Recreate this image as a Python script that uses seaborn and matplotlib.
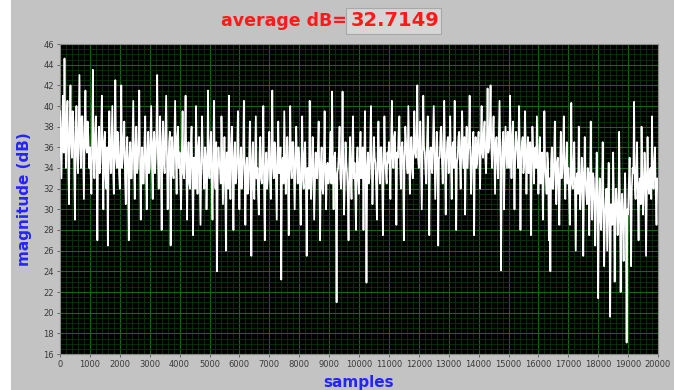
import numpy as np
import pandas as pd
import matplotlib
matplotlib.use('Agg')
import matplotlib.pyplot as plt
from matplotlib.patches import Rectangle
from matplotlib.ticker import MultipleLocator
import seaborn as sns

# sample spacing of the typed trace
step = 25

# magnitude values, one per 25 samples (0 .. 20000), 40 per row = 1000 samples
magnitude_db = [
    39.5, 36.0, 33.0, 38.5, 41.0, 35.5, 44.6, 37.5, 34.0, 39.0, 40.5, 35.0, 30.5, 38.0, 42.0, 36.5, 35.0, 39.5, 38.5, 34.5,
    29.0, 37.0, 40.0, 35.5, 33.5, 38.5, 43.0, 36.0, 34.0, 39.0, 39.0, 35.0, 31.0, 37.5, 41.5, 36.0, 35.5, 38.5, 37.0, 34.0,
    36.0, 33.5, 31.5, 36.5, 43.5, 35.0, 33.0, 37.0, 39.0, 34.0, 27.0, 36.0, 38.0, 33.5, 34.5, 37.5, 41.0, 35.0, 30.0, 36.5,
    37.5, 33.0, 32.0, 36.0, 26.5, 34.5, 39.5, 35.5, 33.5, 37.0, 40.0, 34.0, 31.5, 36.5, 42.5, 35.0, 34.0, 37.5, 36.5, 33.5,
    32.0, 36.0, 42.0, 34.0, 35.0, 37.0, 38.5, 33.0, 30.5, 35.5, 37.0, 33.5, 27.0, 35.0, 36.5, 33.0, 33.0, 37.0, 40.5, 34.5,
    31.0, 36.0, 38.0, 33.5, 34.0, 36.5, 41.5, 35.0, 29.0, 34.0, 36.0, 32.5, 32.5, 36.5, 39.0, 34.0, 30.0, 35.5, 37.5, 33.5,
    34.0, 37.0, 40.0, 34.5, 31.0, 36.5, 37.5, 33.5, 35.0, 37.5, 43.0, 35.0, 32.0, 36.0, 39.0, 34.0, 28.0, 36.5, 38.5, 34.5,
    33.5, 37.0, 41.0, 35.5, 30.0, 34.0, 36.5, 37.5, 26.5, 35.0, 37.0, 33.5, 33.0, 36.5, 40.5, 35.0, 31.5, 37.0, 38.0, 34.0,
    35.5, 32.5, 30.0, 35.5, 39.5, 33.5, 33.0, 36.0, 41.0, 34.0, 29.0, 35.0, 36.5, 32.5, 32.0, 36.0, 38.0, 33.5, 27.5, 35.0,
    35.0, 32.0, 40.0, 34.5, 31.5, 36.0, 37.0, 33.0, 28.5, 34.5, 39.0, 35.5, 33.5, 32.0, 36.0, 35.0, 30.0, 33.5, 41.5, 34.0,
    33.0, 36.0, 37.5, 32.5, 29.0, 35.0, 40.5, 34.0, 32.0, 36.5, 24.0, 33.0, 36.0, 34.5, 34.0, 32.5, 39.0, 35.5, 30.5, 34.0,
    37.0, 33.0, 26.0, 35.5, 35.5, 32.0, 41.0, 34.5, 31.0, 36.0, 38.0, 33.5, 28.0, 35.0, 36.5, 32.5, 33.0, 35.5, 39.5, 34.0,
    30.0, 34.5, 36.0, 32.0, 33.5, 35.5, 40.5, 33.0, 28.5, 34.0, 35.0, 31.5, 32.0, 35.0, 38.5, 33.5, 25.5, 34.5, 36.5, 32.0,
    31.0, 35.0, 39.0, 33.0, 34.0, 31.5, 29.5, 35.5, 37.0, 33.0, 32.5, 35.0, 40.0, 32.5, 27.0, 34.0, 35.5, 32.0, 33.0, 35.5,
    37.5, 33.0, 31.0, 35.5, 41.5, 34.0, 33.0, 36.5, 36.0, 32.5, 29.0, 35.0, 38.5, 33.5, 34.5, 36.0, 23.2, 34.5, 35.0, 32.5,
    39.5, 35.5, 31.5, 34.0, 37.0, 33.0, 27.5, 35.5, 40.0, 34.0, 33.0, 36.5, 36.5, 33.0, 30.0, 35.0, 38.0, 34.5, 32.5, 36.0,
    35.0, 32.0, 28.5, 34.5, 39.0, 33.0, 32.0, 35.5, 36.5, 32.5, 25.5, 34.0, 34.0, 32.0, 40.5, 35.0, 31.0, 33.5, 37.0, 34.5,
    29.0, 32.5, 35.5, 34.0, 33.0, 36.0, 38.5, 33.0, 27.0, 34.5, 36.0, 32.0, 31.5, 35.0, 39.5, 33.5, 30.0, 34.0, 34.5, 32.5,
    33.0, 35.5, 37.5, 32.5, 41.4, 34.0, 30.0, 35.0, 35.5, 32.0, 21.0, 33.5, 34.0, 35.5, 38.0, 33.0, 32.0, 35.0, 41.4, 34.0,
    29.5, 32.5, 36.5, 34.5, 33.5, 31.5, 27.0, 34.0, 37.0, 33.0, 31.0, 35.5, 39.0, 33.0, 34.5, 32.0, 28.0, 34.5, 36.0, 33.0,
    31.5, 35.0, 37.5, 33.0, 34.0, 36.0, 28.0, 34.5, 39.5, 33.0, 22.9, 34.0, 35.5, 32.5, 33.0, 36.0, 40.0, 34.5, 30.5, 33.5,
    37.0, 35.0, 34.5, 32.0, 29.0, 35.5, 38.5, 34.0, 32.5, 36.0, 36.0, 33.0, 27.5, 34.5, 39.0, 35.0, 33.5, 32.5, 35.5, 34.5,
    36.5, 34.0, 31.0, 36.5, 40.5, 35.0, 34.0, 37.0, 37.5, 34.0, 28.5, 35.5, 35.0, 37.5, 39.0, 34.5, 32.0, 36.0, 36.5, 34.5,
    27.0, 35.0, 38.0, 36.5, 34.5, 33.5, 40.0, 36.0, 31.5, 35.0, 37.0, 34.0, 33.0, 36.5, 39.5, 35.5, 35.0, 37.0, 42.0, 35.0,
    34.0, 36.5, 38.5, 34.5, 30.0, 35.5, 41.0, 36.0, 35.5, 33.5, 32.5, 36.5, 39.0, 35.0, 27.5, 35.5, 36.0, 34.0, 33.5, 37.0,
    40.0, 35.5, 31.0, 34.5, 37.5, 36.0, 26.5, 35.0, 35.0, 37.5, 38.0, 34.5, 32.5, 36.0, 40.5, 35.5, 29.5, 34.5, 36.5, 37.0,
    33.5, 36.0, 39.0, 34.5, 31.0, 36.0, 36.5, 34.0, 40.5, 35.5, 28.0, 34.5, 35.0, 37.0, 37.5, 34.5, 32.0, 36.5, 39.5, 35.0,
    34.0, 37.0, 29.5, 35.5, 38.0, 34.0, 35.5, 36.5, 41.0, 35.0, 31.5, 34.5, 36.0, 37.5, 27.5, 35.0, 37.0, 34.0, 34.5, 36.5,
    37.5, 35.0, 32.0, 36.5, 40.0, 35.5, 35.0, 37.5, 38.5, 35.0, 33.5, 36.5, 41.7, 35.5, 36.0, 38.0, 42.0, 36.0, 34.0, 37.0,
    39.0, 35.0, 31.5, 36.5, 37.0, 34.5, 33.0, 37.0, 40.5, 35.5, 24.1, 34.0, 36.5, 37.5, 30.0, 35.0, 38.0, 36.0, 34.0, 37.5,
    36.0, 34.0, 41.0, 36.0, 33.0, 37.0, 38.5, 34.5, 30.0, 35.5, 37.5, 36.5, 35.0, 34.0, 40.0, 36.0, 28.0, 35.0, 36.5, 37.0,
    33.5, 34.5, 39.5, 36.0, 31.5, 35.0, 37.0, 33.5, 34.0, 36.5, 27.5, 34.5, 38.0, 36.0, 32.5, 35.0, 36.0, 34.0, 39.0, 35.0,
    31.5, 34.0, 37.0, 32.5, 34.5, 35.5, 29.0, 33.5, 39.5, 34.0, 33.0, 31.5, 35.5, 34.5, 27.0, 33.0, 24.0, 34.5, 36.0, 32.0,
    32.0, 35.0, 38.5, 33.5, 30.5, 34.5, 35.0, 32.0, 28.5, 34.0, 37.5, 33.0, 33.5, 35.5, 39.0, 33.0, 31.0, 34.5, 36.5, 32.5,
    34.0, 31.5, 28.5, 33.5, 40.3, 32.5, 32.0, 34.5, 36.5, 31.0, 26.0, 33.0, 33.5, 31.5, 38.0, 33.5, 30.0, 32.0, 35.0, 33.5,
    25.5, 32.0, 37.0, 33.0, 31.5, 30.5, 34.0, 33.5, 27.5, 31.5, 38.5, 32.5, 29.0, 33.5, 33.0, 30.5, 26.5, 32.0, 35.5, 31.0,
    21.4, 30.5, 33.0, 29.0, 28.0, 31.5, 36.5, 30.0, 24.5, 29.5, 31.0, 32.0, 26.0, 30.0, 34.5, 29.0, 19.6, 30.5, 30.0, 28.5,
    35.5, 31.0, 23.0, 29.5, 32.0, 30.5, 27.5, 29.0, 37.5, 31.0, 22.0, 30.0, 31.5, 28.5, 25.0, 30.5, 33.5, 29.5, 17.1, 30.0,
    29.5, 32.5, 35.0, 31.0, 24.5, 32.0, 34.0, 33.5, 40.4, 32.0, 31.0, 33.5, 36.5, 31.0, 27.0, 32.5, 33.0, 30.5, 38.0, 33.0,
    29.5, 32.0, 35.5, 33.5, 25.5, 31.5, 37.0, 32.5, 31.5, 33.5, 34.0, 31.0, 39.0, 33.0, 32.0, 34.5, 36.0, 31.5, 28.5, 33.0,
    32.0,
]
samples = np.arange(len(magnitude_db)) * step

average_label = 'average dB='
average_value = '32.7149'

df = pd.DataFrame({'samples': samples, 'magnitude': magnitude_db})

panel = '#c3c3c3'
fig = plt.figure(figsize=(6.78, 3.90), dpi=100, facecolor='white')

# grey front panel behind everything
bg = fig.add_axes([11 / 678, 0, 663 / 678, 1], zorder=0)
bg.set_facecolor(panel)
bg.set_xticks([])
bg.set_yticks([])
for s in bg.spines.values():
    s.set_visible(False)

ax = fig.add_axes([60 / 678, 36 / 390, 598 / 678, 310 / 390], zorder=2)
ax.set_facecolor('black')

sns.lineplot(data=df, x='samples', y='magnitude', ax=ax, color='white', lw=1.25, zorder=3)

ax.set_xlim(0, 20000)
ax.set_ylim(16, 46)
ax.xaxis.set_major_locator(MultipleLocator(1000))
ax.xaxis.set_minor_locator(MultipleLocator(200))
ax.yaxis.set_major_locator(MultipleLocator(2))
ax.yaxis.set_minor_locator(MultipleLocator(0.5))
ax.grid(which='major', color='#176617', lw=0.8, zorder=1)
ax.grid(which='minor', color='#0b340b', lw=0.6, zorder=1)
ax.set_axisbelow(True)
ax.tick_params(which='major', labelsize=6, labelcolor='#3a3a3a', color='#555555', length=2.5, width=0.6, pad=2)
ax.tick_params(which='minor', length=0)
for s in ax.spines.values():
    s.set_color('#8a8a8a')
    s.set_linewidth(0.8)

ax.set_xlabel('samples', fontsize=11, fontweight='bold', color='#2424ff', labelpad=4)
ax.set_ylabel('magnitude (dB)', fontsize=11, fontweight='bold', color='#2424ff', labelpad=8)

# title indicator
fig.patches.append(Rectangle((346 / 678, 1 - 34 / 390), 95 / 678, 26 / 390, transform=fig.transFigure,
                             facecolor='#d6d6d6', edgecolor='#a8a8a8', lw=0.8, zorder=3))
fig.text(284 / 678, 1 - 21 / 390, average_label, ha='center', va='center', fontsize=12.5,
         fontweight='bold', color='#ff1a1a', zorder=4)
fig.text(351 / 678, 1 - 20 / 390, average_value, ha='left', va='center', fontsize=14,
         fontweight='bold', color='#ff1a1a', zorder=4)

fig.savefig('out.png', dpi=100, facecolor=fig.get_facecolor())
